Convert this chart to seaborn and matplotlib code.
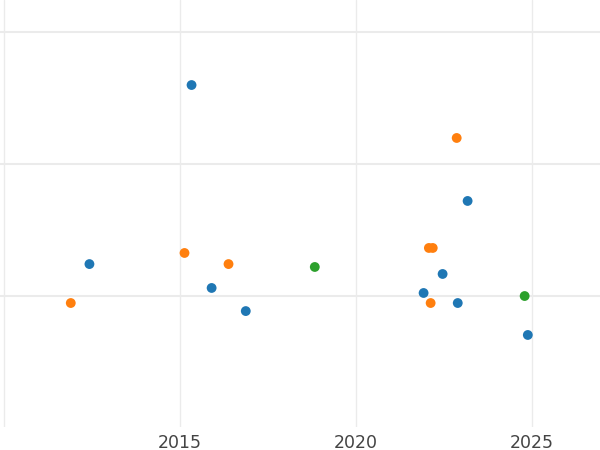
import seaborn as sns
import pandas as pd
import matplotlib.pyplot as plt

# values
years = [2011.90, 2012.43, 2015.33, 2015.13, 2015.90, 2016.38, 2016.87, 2018.83,
         2021.92, 2022.07, 2022.18, 2022.12, 2022.46, 2022.86, 2022.89, 2023.17,
         2024.79, 2024.88]
values = [-0.053, 0.242, 1.598, 0.326, 0.061, 0.242, -0.114, 0.220,
          0.023, 0.364, 0.364, -0.053, 0.167, 1.197, -0.053, 0.720,
          0.000, -0.295]
groups = ["b", "a", "a", "b", "a", "b", "a", "c",
          "a", "b", "b", "b", "a", "b", "a", "a",
          "c", "a"]
group_order = ["a", "b", "c"]
palette = {"a": "#1f77b4", "b": "#ff7f0e", "c": "#2ca02c"}
x_ticks = [2010, 2015, 2020, 2025]
y_ticks = [0, 1, 2]

df = pd.DataFrame({"year": years, "value": values, "group": groups})

sns.set_style("whitegrid", {"grid.color": "#ebebeb"})
fig = plt.figure(figsize=(6, 4.5), dpi=100)
ax = fig.add_axes([0, 23 / 450, 1, 427 / 450])

sns.scatterplot(data=df, x="year", y="value", hue="group", hue_order=group_order,
                palette=palette, s=50, linewidth=0, legend=False, ax=ax)

ax.set_xlim(2009.89, 2026.93)
ax.set_ylim(-0.992, 2.242)
ax.set_xticks(x_ticks)
ax.set_xticklabels(["", "2015", "2020", "2025"])
ax.set_yticks(y_ticks)
ax.set_yticklabels([])
ax.grid(axis="y", linewidth=1.5, color="#ebebeb")
ax.grid(axis="x", linewidth=1.0, color="#ebebeb")
ax.tick_params(axis="x", labelsize=12.5, labelcolor="#444444", length=0, pad=5)
ax.tick_params(axis="y", length=0)
ax.set_xlabel("")
ax.set_ylabel("")
for s in ax.spines.values():
    s.set_visible(False)

fig.savefig("out.png", dpi=100)
